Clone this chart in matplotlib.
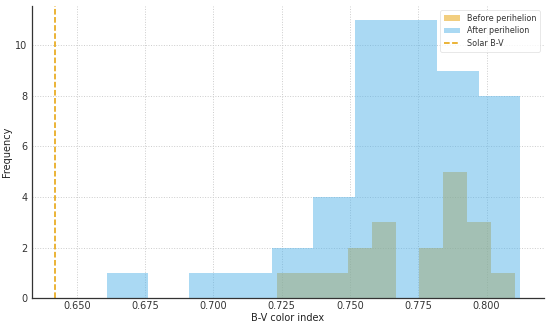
import matplotlib
matplotlib.use("Agg")
import matplotlib.pyplot as plt
import numpy as np

# Histogram data
before_edges = [0.7232, 0.7319, 0.7406, 0.7493, 0.7580, 0.7667, 0.7754, 0.7842, 0.7929, 0.8016, 0.8103]
before_counts = [1, 1, 1, 2, 3, 0, 2, 5, 3, 1]
after_edges = [0.6610, 0.6761, 0.6912, 0.7064, 0.7215, 0.7366, 0.7517, 0.7669, 0.7820, 0.7971, 0.8123]
after_counts = [1, 0, 1, 1, 2, 4, 11, 11, 9, 8]
solar_bv = 0.642

plt.rcParams['font.family'] = ['DejaVu Sans']
fig = plt.figure(figsize=(5.5, 3.25), dpi=100)
ax = fig.add_axes([0.0576, 0.082, 0.9314, 0.8995])

ax.hist(before_edges[:-1], bins=before_edges, weights=before_counts,
        color='#E69F00', alpha=0.5, label='Before perihelion')
ax.hist(after_edges[:-1], bins=after_edges, weights=after_counts,
        color='#56B4E9', alpha=0.5, label='After perihelion')
ax.axvline(solar_bv, color='#E69F00', linestyle='--', linewidth=1.1, label='Solar B-V')

ax.set_xlim(0.6335, 0.8210)
ax.set_ylim(0, 11.55)
ax.set_xticks([0.650, 0.675, 0.700, 0.725, 0.750, 0.775, 0.800])
ax.set_yticks([0, 2, 4, 6, 8, 10])
ax.grid(True, linestyle=':', color='#cccccc', linewidth=0.7)
ax.set_axisbelow(True)
for s in ['top', 'right']:
    ax.spines[s].set_visible(False)
for s in ['left', 'bottom']:
    ax.spines[s].set_color('#333333')
    ax.spines[s].set_linewidth(0.9)
ax.tick_params(length=0, labelsize=7, labelcolor='#333333')
ax.tick_params(axis='x', pad=2)
ax.tick_params(axis='y', pad=3)
ax.set_xlabel('B-V color index', fontsize=7, color='#222222', labelpad=1)
ax.set_ylabel('Frequency', fontsize=7, color='#222222', labelpad=2)

leg = ax.legend(loc='upper right', fontsize=5.8, frameon=True, handlelength=2.0,
                borderpad=0.5, labelspacing=0.4, borderaxespad=0.5)
leg.get_frame().set_edgecolor('#dddddd')
leg.get_frame().set_linewidth(0.6)
for t in leg.get_texts():
    t.set_color('#333333')

fig.savefig('out.png', dpi=100)
